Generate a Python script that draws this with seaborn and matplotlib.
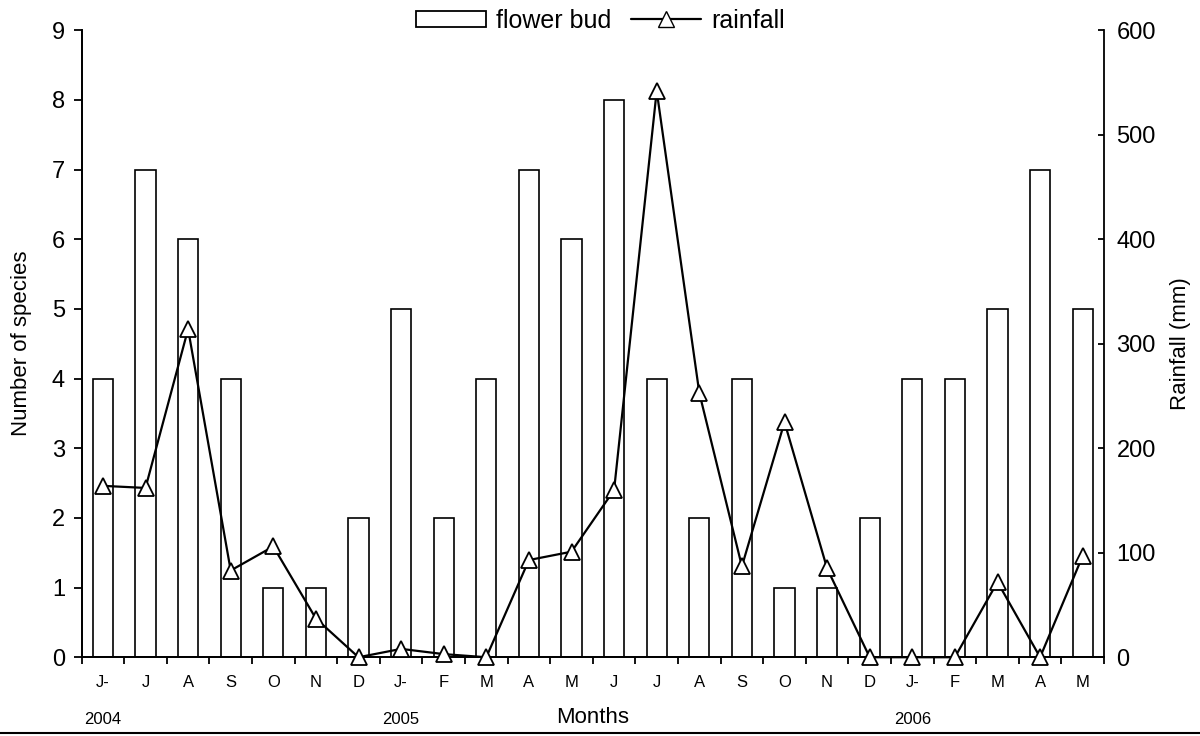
import numpy as np
import pandas as pd
import matplotlib.pyplot as plt
import seaborn as sns
from matplotlib.lines import Line2D
from matplotlib.patches import Patch
from matplotlib.transforms import blended_transform_factory

# ── Data ──────────────────────────────────────────────────────
months = ["J-", "J", "A", "S", "O", "N", "D", "J-", "F", "M", "A", "M",
          "J", "J", "A", "S", "O", "N", "D", "J-", "F", "M", "A", "M"]
flower_bud = [4, 7, 6, 4, 1, 1, 2, 5, 2, 4, 7, 6,
              8, 4, 2, 4, 1, 1, 2, 4, 4, 5, 7, 5]
rainfall = [164, 162, 314, 83, 106, 37, 0, 8, 3, 0, 93, 101,
            160, 542, 253, 87, 225, 85, 0, 0, 0, 72, 0, 97]
years = {0: "2004", 7: "2005", 19: "2006"}

df = pd.DataFrame({"pos": range(len(months)), "month": months,
                   "bud": flower_bud, "rain": rainfall})

# ── Style ─────────────────────────────────────────────────────
sns.set_style("ticks")
plt.rcParams["font.family"] = ["Liberation Sans", "DejaVu Sans"]
plt.rcParams["text.color"] = "black"
plt.rcParams["axes.labelcolor"] = "black"
plt.rcParams["xtick.color"] = "black"
plt.rcParams["ytick.color"] = "black"
plt.rcParams["axes.edgecolor"] = "black"

fig, ax = plt.subplots(figsize=(12, 7.36), dpi=100)
fig.subplots_adjust(left=0.068, right=0.92, top=0.959, bottom=0.107)

# ── Bars ──────────────────────────────────────────────────────
sns.barplot(data=df, x="pos", y="bud", ax=ax, width=0.47,
            color="white", edgecolor="black", linewidth=1.2, zorder=2)
ax.set_xlim(-0.5, len(months) - 0.5)
ax.set_ylim(0, 9)
ax.set_yticks(range(0, 10))
ax.tick_params(axis="y", labelsize=17, width=1.3, length=6, direction="out", pad=6)

# x ticks: marks on boundaries, labels at centres
ax.set_xticks(np.arange(-0.5, len(months), 1.0))
ax.set_xticklabels([])
ax.set_xticks(df["pos"], minor=True)
ax.set_xticklabels(months, minor=True, fontsize=12)
ax.tick_params(axis="x", which="major", length=5, width=1.3, direction="out")
ax.tick_params(axis="x", which="minor", length=0, pad=13)
ax.set_xlabel("Months", fontsize=16, labelpad=12)
ax.set_ylabel("Number of species", fontsize=16, labelpad=14)

trans = blended_transform_factory(ax.transData, ax.transAxes)
for i, yr in years.items():
    ax.text(i, -0.1, yr, transform=trans, ha="center", va="center", fontsize=12)

# ── Rainfall line ─────────────────────────────────────────────
ax2 = ax.twinx()
sns.lineplot(data=df, x="pos", y="rain", ax=ax2, color="black", linewidth=1.6,
             marker="^", markersize=12, markerfacecolor="white",
             markeredgecolor="black", markeredgewidth=1.3, zorder=3,
             clip_on=False)
ax2.set_ylim(0, 600)
ax2.set_yticks(range(0, 601, 100))
ax2.tick_params(axis="y", labelsize=17, width=1.3, length=4, direction="in", pad=9)
ax2.set_ylabel("Rainfall (mm)", fontsize=16, labelpad=10)
ax2.set_xlim(-0.5, len(months) - 0.5)

for a in (ax, ax2):
    a.spines["top"].set_visible(False)
    for s in ("left", "right", "bottom"):
        a.spines[s].set_linewidth(1.3)
ax.spines["right"].set_visible(False)

# ── Legend ────────────────────────────────────────────────────
handles = [Patch(facecolor="white", edgecolor="black", linewidth=1.3),
           Line2D([], [], color="black", linewidth=1.6, marker="^",
                  markersize=11, markerfacecolor="white", markeredgecolor="black")]
fig.legend(handles, ["flower bud", "rainfall"], loc="center",
           bbox_to_anchor=(0.5, 0.972), ncol=2, frameon=False, fontsize=18,
           handlelength=2.8, handleheight=0.6, columnspacing=0.8, handletextpad=0.4)

# bottom rule
fig.add_artist(Line2D([0, 1], [0.004, 0.004], color="black", linewidth=1.5))

plt.savefig("out.png", dpi=100)
plt.close()
